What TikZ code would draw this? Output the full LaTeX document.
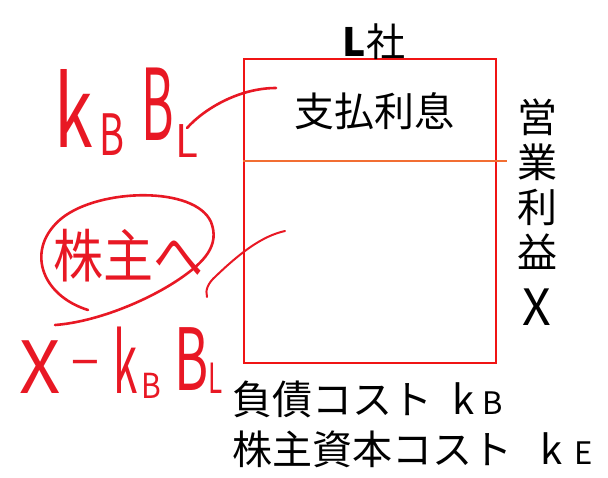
\documentclass[tikz,border=0pt]{standalone}
\usepackage{fontspec}
\setmainfont{Noto Sans CJK JP}
\definecolor{hand}{RGB}{232,24,36}
\definecolor{boxred}{RGB}{240,20,20}
\definecolor{midline}{RGB}{242,110,50}
\newcommand{\fs}[1]{\fontsize{#1}{#1}\selectfont}
\newcommand{\hwl}[3]{\scalebox{#1}[#2]{#3}}
\begin{document}
\begin{tikzpicture}[x=1pt,y=-1pt,
  lbl/.style={inner sep=0pt,outer sep=0pt,text=black},
  hw/.style={inner sep=0pt,outer sep=0pt,text=hand,anchor=base},
  stroke/.style={draw=hand,line width=2.6pt,line cap=round,line join=round}]
\useasboundingbox (0,0) rectangle (608,477);
% box
\node[draw=boxred,line width=2pt,minimum width=252pt,minimum height=304pt,inner sep=0pt,anchor=north west] (box) at (243,58) {};
\coordinate (midL) at (243,161);
\coordinate (midR) at (507,161);
\draw[midline,line width=1.2pt] (midL) -- (midR);
% labels
\node[lbl,font=\fs{39},anchor=base] (title) at (374,56) {{\bfseries L}社};
\node[lbl,font=\fs{40}] (interest) at (374,111) {支払利息};
\node[lbl,font=\fs{40},align=center] (op) at (537,184) {営\\[5pt]業\\[5pt]利\\[5pt]益};
\node[lbl,font=\fs{50},anchor=base] (X) at (537,325) {X};
\node[lbl,font=\fs{40},anchor=base west] (kb) at (232,414) {負債コスト\hspace{20pt}k\hspace{8pt}{\fs{31}B}};
\node[lbl,font=\fs{40},anchor=base west] (ke) at (232,464) {株主資本コスト\hspace{28pt}k\hspace{12pt}{\fs{31}E}};
% handwritten upper
\node[hw,font=\fs{70}] (k1) at (74,147) {\hwl{1}{1.4}{k}};
\node[hw,font=\fs{38}] (b1) at (112,155) {\hwl{1}{1.5}{B}};
\node[hw,font=\fs{55}] (B1) at (158,140) {\hwl{0.9}{1.8}{B}};
\node[hw,font=\fs{42}] (l1) at (187,157) {\hwl{1}{1.07}{L}};
\coordinate (u1) at (187,128);
\coordinate (u2) at (276,88);
\draw[stroke] (u1) .. controls (205,108) and (240,88) .. (u2);
% circled text
\node[hw,font=\fs{50},anchor=center] (kabu) at (128,256) {\hwl{1}{1.15}{株主へ}};
\coordinate (c1) at (88,310);
\coordinate (c2) at (55,325);
\draw[stroke] (c1) .. controls (40,295) and (25,248) .. (62,218)
  .. controls (100,188) and (195,186) .. (211,222)
  .. controls (220,245) and (205,262) .. (178,280)
  .. controls (145,302) and (95,322) .. (c2);
% lower curve
\coordinate (d1) at (207,297);
\coordinate (d2) at (285,231);
\draw[stroke,line width=2pt] (d1) .. controls (205,290) and (208,283) .. (216,276)
  .. controls (240,253) and (262,236) .. (d2);
% handwritten lower
\node[hw,font=\fs{72}] (X2) at (40,393) {X};
\node[hw,font=\fs{50},anchor=center] (minus) at (85,370) {−};
\node[hw,font=\fs{44}] (k2) at (126,393) {\hwl{1}{1.9}{k}};
\node[hw,font=\fs{30}] (b2) at (151,398) {\hwl{1}{1.15}{B}};
\node[hw,font=\fs{52}] (B2) at (192,390) {\hwl{1}{1.65}{B}};
\node[hw,font=\fs{26}] (l2) at (216,393) {\hwl{1}{1.6}{L}};
\end{tikzpicture}
\end{document}
